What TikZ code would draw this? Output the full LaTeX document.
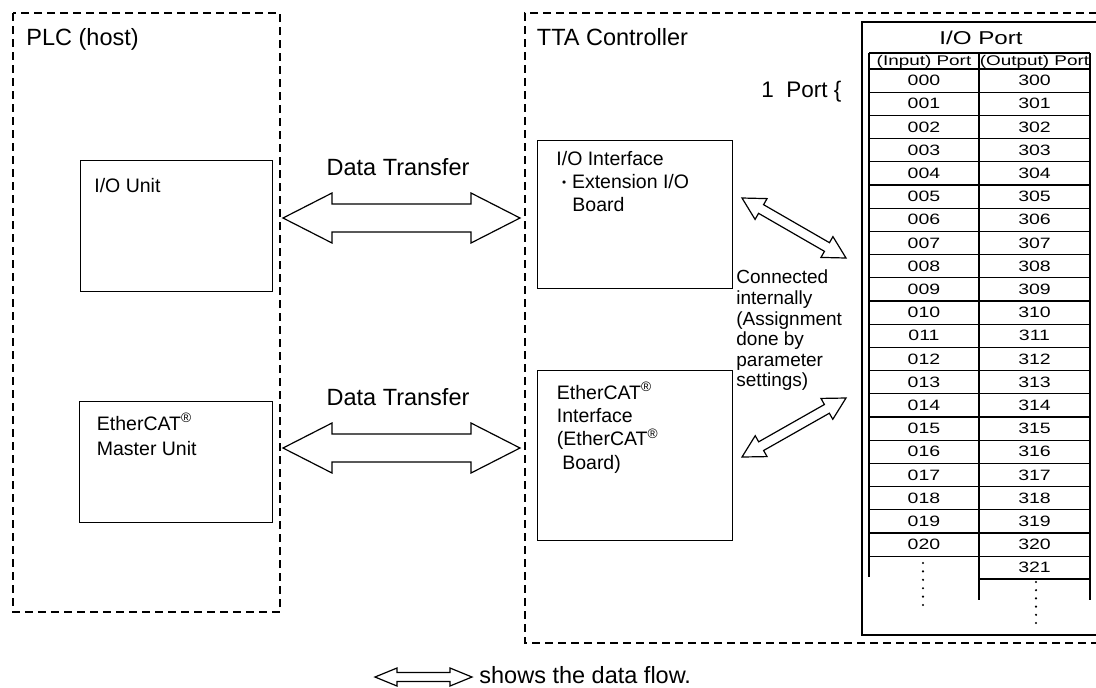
\documentclass[tikz,border=0pt]{standalone}
\usepackage{fontspec}
\setmainfont{Liberation Sans}
\newfontfamily\cjk{Noto Sans CJK JP}
\usepackage{graphicx}
\usetikzlibrary{calc,positioning}

\newcommand{\wide}[1]{\scalebox{1.3}[1]{#1}}
\newcommand{\flowarrow}[5]{%
  \coordinate (fa) at ($(#1)!#5!(#2)$);
  \coordinate (fb) at ($(#2)!#5!(#1)$);
  \draw[flow] (#1) -- ($(fa)!#4!90:(#1)$) -- ($(fa)!#3!90:(#1)$)
    -- ($(fb)!#3!-90:(#2)$) -- ($(fb)!#4!-90:(#2)$) -- (#2)
    -- ($(fb)!#4!90:(#2)$) -- ($(fb)!#3!90:(#2)$)
    -- ($(fa)!#3!-90:(#1)$) -- ($(fa)!#4!-90:(#1)$) -- cycle;
}

\begin{document}
\begin{tikzpicture}[x=0.5pt, y=-0.5pt,
  frame/.style={line width=0.75pt, dash pattern=on 4pt off 2.5pt},
  unit/.style={draw, line width=0.65pt, anchor=north west, inner sep=0pt},
  title/.style={font=\fontsize{11.75}{14}\selectfont, inner sep=0pt},
  boxtext/.style={font=\fontsize{9.75}{11.7}\selectfont, align=left, anchor=base west, inner sep=0pt},
  note/.style={font=\fontsize{9.5}{10.3}\selectfont, align=left, anchor=base west, inner sep=0pt},
  flow/.style={draw, line width=0.6pt, fill=white, line join=miter},
  grid/.style={line width=0.55pt},
  cell/.style={font=\fontsize{7.5}{9}\selectfont, inner sep=0pt}]
\useasboundingbox (0,0) rectangle (1096,687);
\clip (0,0) rectangle (1096,687);

\draw[frame] (13,13) rectangle (280,612);
\draw[frame] (1110,13) -- (525,13) -- (525,643) -- (1110,643);
\node[title, anchor=base west] (plc) at (26,45.5) {PLC (host)};
\node[title, anchor=base west] (tta) at (536.5,45.5) {TTA Controller};

\node[unit, minimum width=96pt, minimum height=65.5pt] (iounit) at (80,160) {};
\node[boxtext] (iounitlbl) at (94,192) {I/O Unit};
\node[unit, minimum width=96.5pt, minimum height=60.5pt] (ecmaster) at (79,401) {};
\node[boxtext] (ecmasterlbl) at (96.5,455) {EtherCAT\textsuperscript{®}\\[0.8pt]Master Unit};

\node[unit, minimum width=97.5pt, minimum height=74pt] (ioif) at (537,140) {};
\node[boxtext] (ioiflbl) at (556,211.8) {I/O Interface\\{\cjk\fontsize{7.8}{9}\selectfont ・}Extension I/O\\\hspace*{8pt}Board};
\node[unit, minimum width=97.5pt, minimum height=85pt] (ecif) at (537,370) {};
\node[boxtext] (eciflbl) at (556.5,469.2) {EtherCAT\textsuperscript{®}\\Interface\\(EtherCAT\textsuperscript{®}\\\hspace*{2.7pt}Board)};

\node[title] (dtup) at (398,167) {Data Transfer};
\node[title] (dtlow) at (398,397) {Data Transfer};
\coordinate (dtupa) at (283,218);
\coordinate (dtupb) at (520,218);
\coordinate (dtlowa) at (283,448);
\coordinate (dtlowb) at (520,448);
\flowarrow{dtupa}{dtupb}{7pt}{12.5pt}{24.5pt}
\flowarrow{dtlowa}{dtlowb}{7pt}{12.5pt}{24.5pt}

\node[note] (internal) at (736,386.8) {Connected\\internally\\(Assignment\\done by\\parameter\\settings)};
\coordinate (ioa) at (742,198);
\coordinate (iob) at (846,258);
\coordinate (eca) at (742,457);
\coordinate (ecb) at (846,398);
\flowarrow{ioa}{iob}{2.5pt}{6pt}{11pt}
\flowarrow{eca}{ecb}{2.5pt}{6pt}{11pt}

\draw[grid] (1110,22) -- (862,22) -- (862,635) -- (1110,635);
\node[inner sep=0pt, font=\fontsize{9.3}{11}\selectfont] (ioport) at (981,38) {\wide{I/O Port}};
\draw[grid] (869,53) -- (1090,53);
\draw[grid] (869,53) -- (869,577);
\draw[grid] (979,53) -- (979,600);
\draw[grid] (1090,53) -- (1090,600);
\node[cell, font=\fontsize{7}{8}\selectfont] (inhead) at (924,62) {\scalebox{1.35}[1]{(Input) Port}};
\node[cell, font=\fontsize{7}{8}\selectfont] (outhead) at (1034.5,62) {\scalebox{1.35}[1]{(Output) Port}};
\foreach \i in {0,...,21}
  \draw[grid] (869,69+23.2*\i) -- (1090,69+23.2*\i);
\foreach \i in {0,...,20} {
  \node[cell] (in\i) at (924,80.6+23.2*\i) {\wide{0\ifnum\i<10 0\fi\i}};
  \node[cell] (out\i) at (1034.5,80.6+23.2*\i) {\wide{3\ifnum\i<10 0\fi\i}};
}
\node[cell] (out21) at (1034.5,567.6) {\wide{321}};
\draw[grid] (979,579) -- (1090,579);
\foreach \k in {0,...,5} {
  \fill (923,563+8.4*\k) circle (0.6pt);
  \fill (1036,582+8.2*\k) circle (0.6pt);
}
\node[title, font=\fontsize{11.25}{13}\selectfont, anchor=base west] (oneport) at (761,97) {1~~Port \{};

\coordinate (keya) at (375,677);
\coordinate (keyb) at (472,677);
\flowarrow{keya}{keyb}{2.25pt}{4.5pt}{11pt}
\node[title, anchor=base west] (key) at (479,683) {shows the data flow.};
\end{tikzpicture}
\end{document}
